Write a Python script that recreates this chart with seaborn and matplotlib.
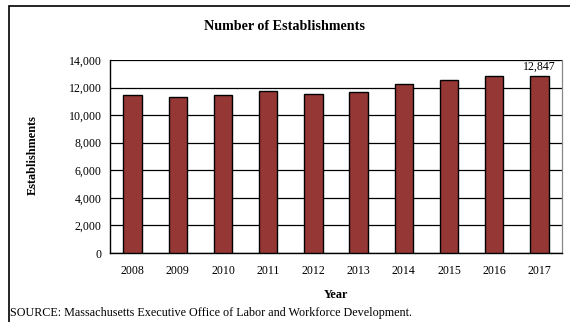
import matplotlib
matplotlib.use("Agg")
import matplotlib.pyplot as plt
import seaborn as sns
import pandas as pd
import numpy as np
from matplotlib.patches import Rectangle

years = ["2008", "2009", "2010", "2011", "2012", "2013", "2014", "2015", "2016", "2017"]
establishments = [11450, 11300, 11450, 11750, 11500, 11650, 12230, 12580, 12830, 12847]
y_ticks = [0, 2000, 4000, 6000, 8000, 10000, 12000, 14000]
title = "Number of Establishments"
x_label = "Year"
y_label = "Establishments"
source = "SOURCE: Massachusetts Executive Office of Labor and Workforce Development."

sns.set_style("white")
plt.rcParams["font.family"] = ["Liberation Serif", "DejaVu Serif"]
plt.rcParams["text.color"] = "black"
plt.rcParams["xtick.color"] = "black"
plt.rcParams["ytick.color"] = "black"
plt.rcParams["axes.labelcolor"] = "black"

df = pd.DataFrame({"Year": years, "Establishments": establishments})

fig = plt.figure(figsize=(5.7, 3.22), dpi=100)
ax = fig.add_axes([110/570, 1-253/322, (562-110)/570, (253-60)/322])

sns.barplot(data=df, x="Year", y="Establishments", ax=ax, color="#953735",
            saturation=1, width=0.41, edgecolor="black", linewidth=1.0, zorder=3)

ax.set_ylim(0, 14000)
ax.set_xlim(-0.5, len(years) - 0.5)
ax.set_yticks(y_ticks)
ax.set_yticklabels([f"{v:,}" for v in y_ticks], fontsize=8.6)
ax.yaxis.grid(True, color="black", linewidth=0.9, zorder=0)
ax.set_axisbelow(True)

ax.set_xticks(range(len(years)))
ax.set_xticklabels(years, fontsize=8.6)
ax.set_xticks(np.arange(-0.5, len(years) + 0.5, 1.0), minor=True)
ax.tick_params(axis="x", which="major", length=0, pad=9)
ax.tick_params(axis="x", which="minor", length=4, width=0.9, color="black", direction="out")
ax.tick_params(axis="y", which="major", length=4, width=0.9, color="black", direction="out", pad=2)

for s in ["left", "bottom"]:
    ax.spines[s].set_color("black")
    ax.spines[s].set_linewidth(1.0)
ax.spines["top"].set_visible(False)
ax.spines["right"].set_visible(True)
ax.spines["right"].set_color("#888888")
ax.spines["right"].set_linewidth(0.9)

ax.set_xlabel("")
ax.set_ylabel("")

# data label for last bar
last = len(years) - 1
ax.text(last, establishments[last] + 250, f"{establishments[last]:,}",
        ha="center", va="bottom", fontsize=8.6, color="black")

fig.text(285/570, 1-26/322, title, ha="center", va="center", fontsize=10.2,
         fontweight="bold", color="black")
fig.text(336/570, 1-295/322, x_label, ha="center", va="center", fontsize=8.8,
         fontweight="bold", color="black")
fig.text(33/570, 1-155/322, y_label, ha="center", va="center", rotation=90,
         fontsize=8.8, fontweight="bold", color="black")
fig.text(10/570, 1-313/322, source, ha="left", va="center", fontsize=8.7, color="black")

# outer frame
fig.patches.append(Rectangle((9/570, -0.05), 1.1, 1 - 6/322 + 0.05, transform=fig.transFigure,
                             fill=False, edgecolor="black", linewidth=1.2))

fig.savefig("out.png", dpi=100)
